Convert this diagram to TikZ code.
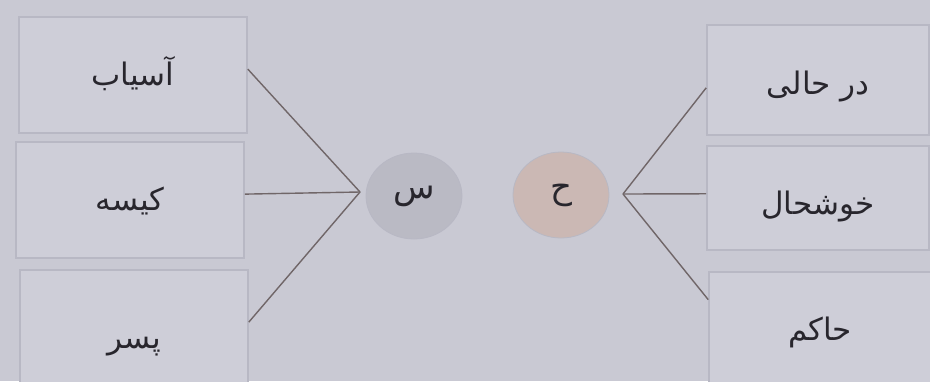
\documentclass[tikz,border=0pt]{standalone}
\usepackage{fontspec}
\newfontfamily\arabicfont[Script=Arabic]{DejaVu Sans}
\TeXXeTstate=1
\usetikzlibrary{calc,shapes.geometric}
\definecolor{bg}{RGB}{201,201,211}
\definecolor{boxfill}{RGB}{206,206,216}
\definecolor{boxedge}{RGB}{184,184,196}
\definecolor{sfill}{RGB}{186,186,196}
\definecolor{hfill}{RGB}{203,184,180}
\definecolor{linec}{RGB}{112,102,104}
\definecolor{txt}{RGB}{40,38,45}
\newcommand{\shiftword}[2]{\raisebox{#1}[0pt][0pt]{#2}}
\tikzset{
  wordbox/.style={draw=boxedge, fill=boxfill, line width=1.6pt, minimum width=228pt, minimum height=116pt, inner sep=0pt, text=txt, font=\arabicfont\fontsize{31}{36}\selectfont},
  letter/.style={ellipse, fill=#1, draw=boxedge, line width=0.8pt, minimum width=96pt, minimum height=86pt, inner sep=0pt, text=txt, font=\arabicfont\fontsize{34}{38}\selectfont},
  link/.style={draw=linec, line width=1.4pt}
}
\begin{document}
\begin{tikzpicture}[x=1pt,y=-1pt]
\useasboundingbox (0,0) rectangle (930,381);
\fill[bg] (0,0) rectangle (930,381);
% left boxes
\node[wordbox] (l1) at (133,75) {\shiftword{-10pt}{\beginR آسیاب\endR}};
\node[wordbox] (l2) at (130,200) {\shiftword{-10pt}{\beginR کیسه\endR}};
\node[wordbox] (l3) at (134,328) {\shiftword{-20pt}{\beginR پسر\endR}};
% right boxes
\node[wordbox, minimum width=222pt, minimum height=110pt] (r1) at (818,80) {\shiftword{-14pt}{\beginR در حالی\endR}};
\node[wordbox, minimum width=222pt, minimum height=104pt] (r2) at (818,198) {\shiftword{-16pt}{\beginR خوشحال\endR}};
\node[wordbox, minimum width=222pt, minimum height=112pt] (r3) at (820,328) {\shiftword{-12pt}{\beginR حاکم\endR}};
% letter circles
\node[letter=sfill] (s) at (414,196) {\beginR س\endR};
\node[letter=hfill] (h) at (561,195) {\beginR ح\endR};
% vertices
\coordinate (sv) at (360,192);
\coordinate (hv) at (623,194);
% connectors
\draw[link] ($(l1.north east)!0.45!(l1.south east)$) -- (sv);
\draw[link] ($(l2.north east)!0.45!(l2.south east)$) -- (sv);
\draw[link] ($(l3.north east)!0.45!(l3.south east)$) -- (sv);
\draw[link] (hv) -- ($(r1.north west)!0.57!(r1.south west)$);
\draw[link] (hv) -- ($(r2.north west)!0.46!(r2.south west)$);
\draw[link] (hv) -- ($(r3.north west)!0.25!(r3.south west)$);
\end{tikzpicture}
\end{document}
